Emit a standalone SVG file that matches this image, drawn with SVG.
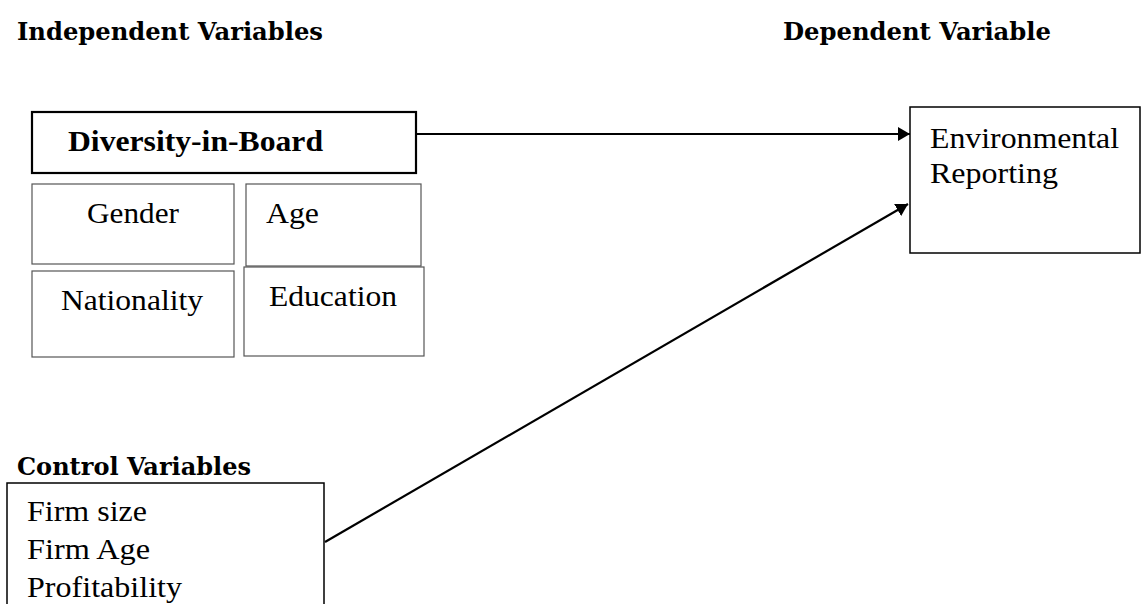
<svg xmlns="http://www.w3.org/2000/svg" width="1141" height="604" viewBox="0 0 1141 604">
<style>
.hdr{font-family:"DejaVu Serif",serif;font-weight:bold;font-size:24px;fill:#000}
.lbl{font-family:"Liberation Serif","Times New Roman",serif;font-size:29px;fill:#000}
.bold{font-weight:bold}
.box{fill:#fff;stroke:#000;stroke-width:1.5}
.thick{stroke-width:2.2}
.thin{fill:#fff;stroke:#555;stroke-width:1.2}
.conn{stroke:#000;stroke-width:2.2;fill:none}
</style>
<defs>
<marker id="arr" markerWidth="12" markerHeight="14" refX="12" refY="7" orient="auto" markerUnits="userSpaceOnUse">
<path d="M0,0 L12,7 L0,14 Z" fill="#000"/>
</marker>
</defs>
<rect width="1141" height="604" fill="#fff"/>
<g id="headers">
<text class="hdr" x="17" y="40" textLength="306" lengthAdjust="spacingAndGlyphs">Independent Variables</text>
<text class="hdr" x="783" y="40" textLength="268" lengthAdjust="spacingAndGlyphs">Dependent Variable</text>
<text class="hdr" x="17" y="475" textLength="234" lengthAdjust="spacingAndGlyphs">Control Variables</text>
</g>
<g id="diversity">
<rect class="box thick" x="32" y="112" width="384" height="61"/>
<text class="lbl bold" x="68" y="151" textLength="255" lengthAdjust="spacingAndGlyphs">Diversity-in-Board</text>
</g>
<g id="gender">
<rect class="thin" x="32" y="184" width="202" height="80"/>
<text class="lbl" x="87" y="223" textLength="92" lengthAdjust="spacingAndGlyphs">Gender</text>
</g>
<g id="age">
<rect class="thin" x="246" y="184" width="175" height="82"/>
<text class="lbl" x="266" y="223" textLength="53" lengthAdjust="spacingAndGlyphs">Age</text>
</g>
<g id="nationality">
<rect class="thin" x="32" y="271" width="202" height="86"/>
<text class="lbl" x="61" y="310" textLength="142" lengthAdjust="spacingAndGlyphs">Nationality</text>
</g>
<g id="education">
<rect class="thin" x="244" y="267" width="180" height="89"/>
<text class="lbl" x="269" y="306" textLength="128" lengthAdjust="spacingAndGlyphs">Education</text>
</g>
<g id="environmental">
<rect class="box" x="910" y="107" width="230" height="146"/>
<text class="lbl" x="930" y="148" textLength="189" lengthAdjust="spacingAndGlyphs">Environmental</text>
<text class="lbl" x="930" y="183" textLength="128" lengthAdjust="spacingAndGlyphs">Reporting</text>
</g>
<g id="control">
<path class="box" d="M7,620 L7,483 L324,483 L324,620"/>
<text class="lbl" x="27" y="521" textLength="120" lengthAdjust="spacingAndGlyphs">Firm size</text>
<text class="lbl" x="27" y="559" textLength="123" lengthAdjust="spacingAndGlyphs">Firm Age</text>
<text class="lbl" x="27" y="597" textLength="155" lengthAdjust="spacingAndGlyphs">Profitability</text>
</g>
<g id="connectors">
<line class="conn" x1="416" y1="134" x2="910" y2="134" marker-end="url(#arr)"/>
<line class="conn" x1="325" y1="542" x2="908" y2="204" marker-end="url(#arr)"/>
</g>
</svg>
